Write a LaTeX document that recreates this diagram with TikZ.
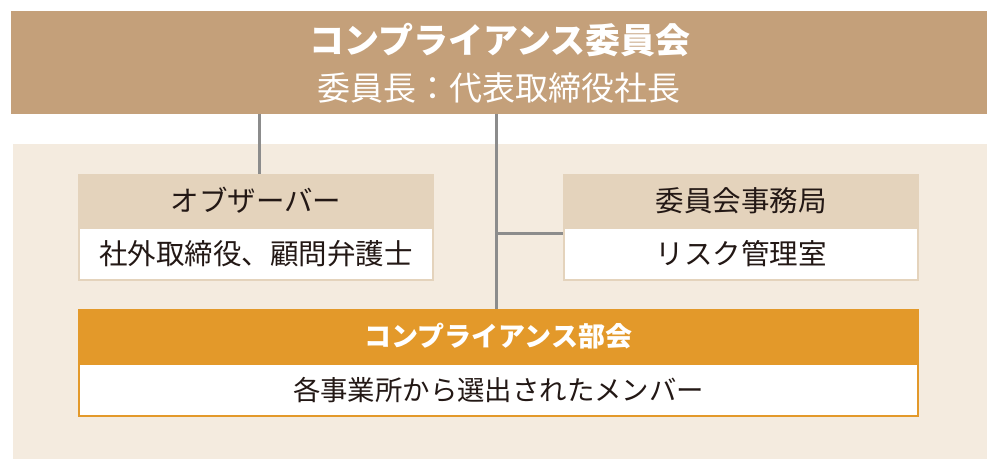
\documentclass[tikz,border=0pt]{standalone}
\usepackage{fontspec}
\newfontfamily\jp{Noto Sans CJK JP}
\definecolor{topfill}{HTML}{C4A07A}
\definecolor{panelfill}{HTML}{F4EBDF}
\definecolor{headfill}{HTML}{E4D3BC}
\definecolor{orange}{HTML}{E3992A}
\definecolor{linegray}{HTML}{8C8C8C}
\definecolor{ink}{HTML}{231815}
\tikzset{
  box/.style={rectangle, inner sep=0pt, outer sep=0pt, font=\jp\fontsize{28.5}{32}\selectfont, text=ink},
  headbox/.style={box, fill=headfill, minimum width=356pt, minimum height=53pt},
  bodybox/.style={box, fill=white, draw=headfill, line width=2pt, minimum width=354pt, minimum height=52pt},
  conn/.style={draw=linegray, line width=3pt},
  label/.style={inner sep=0pt, outer sep=0pt, text=white}
}
\begin{document}
\begin{tikzpicture}[x=1pt,y=-1pt]
\useasboundingbox (0,0) rectangle (1002,473);
% panel
\node[rectangle, fill=panelfill, minimum width=974pt, minimum height=315pt, inner sep=0pt] (panel) at (500,301.5) {};
% top box
\node[rectangle, fill=topfill, minimum width=976pt, minimum height=103pt, inner sep=0pt, outer sep=0pt] (top) at (499,62.5) {};
\node[label, font=\jp\bfseries\fontsize{35}{40}\selectfont] (toptitle) at (500,40) {コンプライアンス委員会};
\node[label, font=\jp\fontsize{33}{38}\selectfont] (topsub) at (499,88) {委員長：代表取締役社長};
% observer
\node[headbox] (obs) at (256,200.5) {オブザーバー};
\node[bodybox] (obsbody) at (256,254) {社外取締役、顧問弁護士};
% secretariat
\node[headbox] (sec) at (741,200.5) {委員会事務局};
\node[bodybox] (secbody) at (741,254) {リスク管理室};
% department
\node[box, fill=orange, minimum width=841pt, minimum height=54pt, text=white, font=\jp\bfseries\fontsize{27}{32}\selectfont] (dept) at (498.5,336) {コンプライアンス部会};
\node[box, fill=white, draw=orange, line width=2pt, minimum width=839pt, minimum height=52pt, font=\jp\fontsize{27.4}{32}\selectfont] (deptbody) at (498.5,390) {各事業所から選出されたメンバー};
% connectors
\coordinate (obsx) at (259,0);
\coordinate (mainx) at (496,0);
\coordinate (junc) at (496,234);
\draw[conn] (top.south -| obsx) -- (obs.north -| obsx);
\draw[conn] (top.south -| mainx) -- (dept.north -| mainx);
\draw[conn] (junc) -- (junc -| sec.west);
\end{tikzpicture}
\end{document}
